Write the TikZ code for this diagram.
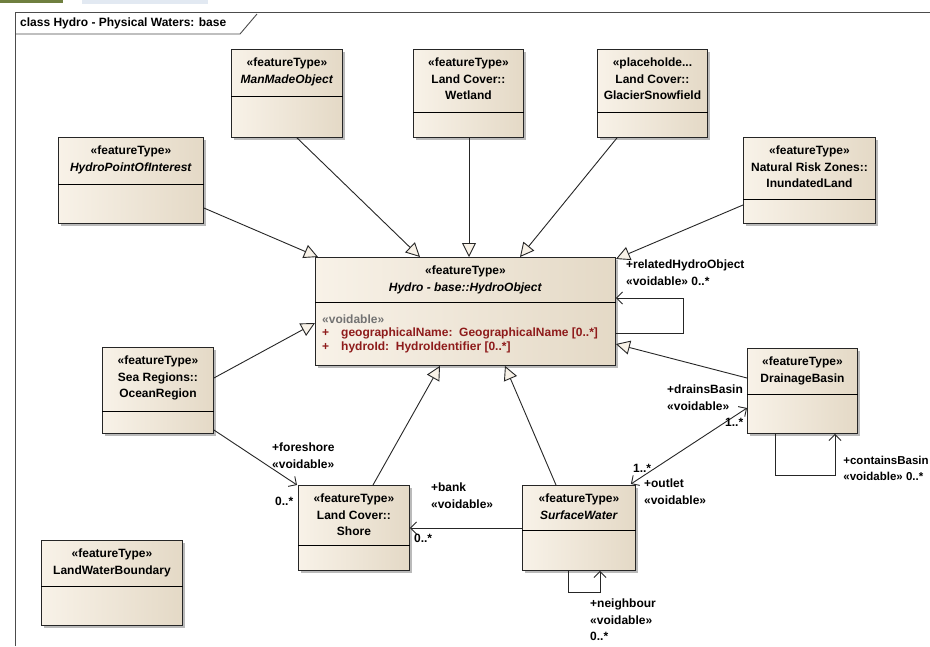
\documentclass[tikz,border=0pt]{standalone}
\usepackage{fontspec}
\setmainfont{Liberation Sans}
\usetikzlibrary{arrows.meta}
\usetikzlibrary{shadows}
\definecolor{boxlight}{HTML}{F8F2E8}
\definecolor{boxdark}{HTML}{E4D9C6}
\definecolor{attrred}{HTML}{8E1B1B}
\definecolor{barolive}{HTML}{6F7F3F}
\definecolor{barblue}{HTML}{E2E9F2}
\newcommand\umlclass[7]{%
  \node[classbox, minimum width=#4pt, minimum height=#5pt] (#1) at (#2,#3) {};
  \node[classtitle] (#1-title) at ([yshift=-9pt]#1.north) {#7};
  \draw[classline] ([yshift=-#6pt]#1.north west) -- ([yshift=-#6pt]#1.north east);
}

\begin{document}
\begin{tikzpicture}[x=1pt,y=-1pt,
  font=\fontsize{12}{16.5}\selectfont\bfseries,
  classbox/.style={draw=black!85, line width=0.9pt, left color=boxlight, right color=boxdark,
    anchor=north west, inner sep=0pt,
    drop shadow={shadow xshift=3pt, shadow yshift=-3pt, fill=black!45, opacity=0.6}},
  classtitle/.style={anchor=north, align=center, inner sep=0pt},
  classline/.style={draw=black, line width=1pt},
  attr/.style={anchor=west, inner sep=0pt},
  lbl/.style={anchor=north west, align=left, inner sep=0pt},
  gen/.style={draw=black!85, line width=0.9pt, -{Triangle[length=14pt,width=14pt,fill=boxlight]}},
  assoc/.style={draw=black!85, line width=0.9pt, -{Straight Barb[length=6pt,width=12pt]}}]

\fill[white] (0,0) rectangle (930,646);
\useasboundingbox (0,0) rectangle (930,646);
\fill[barolive] (0,0) rectangle (63,3);
\fill[barblue] (82,0) rectangle (208,4);

\draw[black!70, line width=0.9pt] (15,646) -- (15,12) -- (930,12);
\draw[black!70, line width=0.9pt] (15,34) -- (240,34) -- (257,14);
\node[attr] (frame-title) at (20,23) {class Hydro - Physical Waters: base};

\umlclass{poi}{58}{137}{145}{86}{47}{«featureType»\\\textit{HydroPointOfInterest}}
\umlclass{mmo}{231}{49}{111}{88}{47}{«featureType»\\\textit{ManMadeObject}}
\umlclass{wet}{413}{49}{110}{88}{63}{«featureType»\\Land Cover::\\Wetland}
\umlclass{gla}{597}{49}{110}{88}{63}{«placeholde...\\Land Cover::\\GlacierSnowfield}
\umlclass{inu}{743}{137}{132}{86}{62}{«featureType»\\Natural Risk Zones::\\InundatedLand}
\umlclass{hyd}{315}{257}{300}{108}{45}{«featureType»\\\textit{Hydro - base::HydroObject}}
\umlclass{oce}{102}{347}{111}{86}{64}{«featureType»\\Sea Regions::\\OceanRegion}
\umlclass{dra}{747}{348}{110}{85}{46}{«featureType»\\DrainageBasin}
\umlclass{sho}{298}{485}{111}{85}{60}{«featureType»\\Land Cover::\\Shore}
\umlclass{sur}{522}{485}{113}{85}{45}{«featureType»\\\textit{SurfaceWater}}
\umlclass{lwb}{41}{540}{141}{85}{46}{«featureType»\\LandWaterBoundary}

\node[attr, text=black!55] (hyd-st) at ([xshift=7pt,yshift=-62pt]hyd.north west) {«voidable»};
\node[attr, text=attrred] (hyd-a1) at ([xshift=7pt,yshift=-76pt]hyd.north west) {+\hspace{12pt}geographicalName:\ \ GeographicalName [0..*]};
\node[attr, text=attrred] (hyd-a2) at ([xshift=7pt,yshift=-90pt]hyd.north west) {+\hspace{12pt}hydroId:\ \ HydroIdentifier [0..*]};

\draw[gen] ([yshift=-71pt]poi.north east) -- ([xshift=3pt]hyd.north west);
\draw[gen] ([xshift=66pt]mmo.south west) -- ([xshift=105pt]hyd.north west);
\draw[gen] ([xshift=56pt]wet.south west) -- ([xshift=154pt]hyd.north west);
\draw[gen] ([xshift=20pt]gla.south west) -- ([xshift=205pt]hyd.north west);
\draw[gen] ([yshift=-68pt]inu.north west) -- ([yshift=-2pt]hyd.north east);
\draw[gen] ([yshift=-31pt]oce.north east) -- ([yshift=-66pt]hyd.north west);
\draw[gen] ([yshift=-30pt]dra.north west) -- ([yshift=-87pt]hyd.north east);
\draw[gen] ([xshift=75pt]sho.north west) -- ([xshift=125pt]hyd.south west);
\draw[gen] ([xshift=34pt]sur.north west) -- ([xshift=190pt]hyd.south west);

\draw[assoc] ([yshift=-76pt]hyd.north east) -- ++(68,0) -- ++(0,-35) -- ([yshift=-41pt]hyd.north east);
\node[lbl] (hyd-rel) at ([xshift=10pt,yshift=-3pt]hyd.north east) {+relatedHydroObject\\«voidable» 0..*};

\draw[assoc] ([yshift=-83pt]oce.north east) -- ([xshift=-1pt]sho.north west);
\node[lbl] (sho-fore) at ([xshift=-26pt,yshift=42pt]sho.north west) {+foreshore\\«voidable»};
\node[attr] (sho-fore-m) at ([xshift=-23pt,yshift=-16pt]sho.north west) {0..*};

\draw[assoc] ([yshift=-43pt]sur.north west) -- ([yshift=-43pt]sho.north east);
\node[lbl] (sho-bank) at ([xshift=21pt,yshift=2pt]sho.north east) {+bank\\«voidable»};
\node[attr] (sho-bank-m) at ([xshift=4pt,yshift=-53pt]sho.north east) {0..*};

\draw[assoc, {Straight Barb[length=6pt,width=12pt]}-{Straight Barb[length=6pt,width=12pt]}] ([yshift=-60pt]dra.north west) -- ([xshift=-5pt,yshift=1pt]sur.north east);
\node[lbl] (dra-drains) at ([xshift=-80pt,yshift=-37pt]dra.north west) {+drainsBasin\\«voidable»};
\node[attr] (dra-drains-m) at ([xshift=-22pt,yshift=-74pt]dra.north west) {1..*};
\node[attr] (sur-out-m) at ([xshift=-3pt,yshift=17pt]sur.north east) {1..*};
\node[lbl] (sur-out) at ([xshift=8pt,yshift=6pt]sur.north east) {+outlet\\«voidable»};

\draw[assoc] ([xshift=28pt]dra.south west) -- ++(0,42) -- ++(60,0) -- ([xshift=88pt]dra.south west);
\node[lbl, anchor=north east, font=\fontsize{11.5}{16.5}\selectfont\bfseries] (dra-contains) at ([xshift=71pt,yshift=-22pt]dra.south east) {+containsBasin\\«voidable» 0..*};

\draw[assoc] ([xshift=46pt]sur.south west) -- ++(0,22) -- ++(32,0) -- ([xshift=78pt]sur.south west);
\node[lbl] (sur-neigh) at ([xshift=68pt,yshift=-28pt]sur.south west) {+neighbour\\«voidable»\\0..*};

\end{tikzpicture}
\end{document}
